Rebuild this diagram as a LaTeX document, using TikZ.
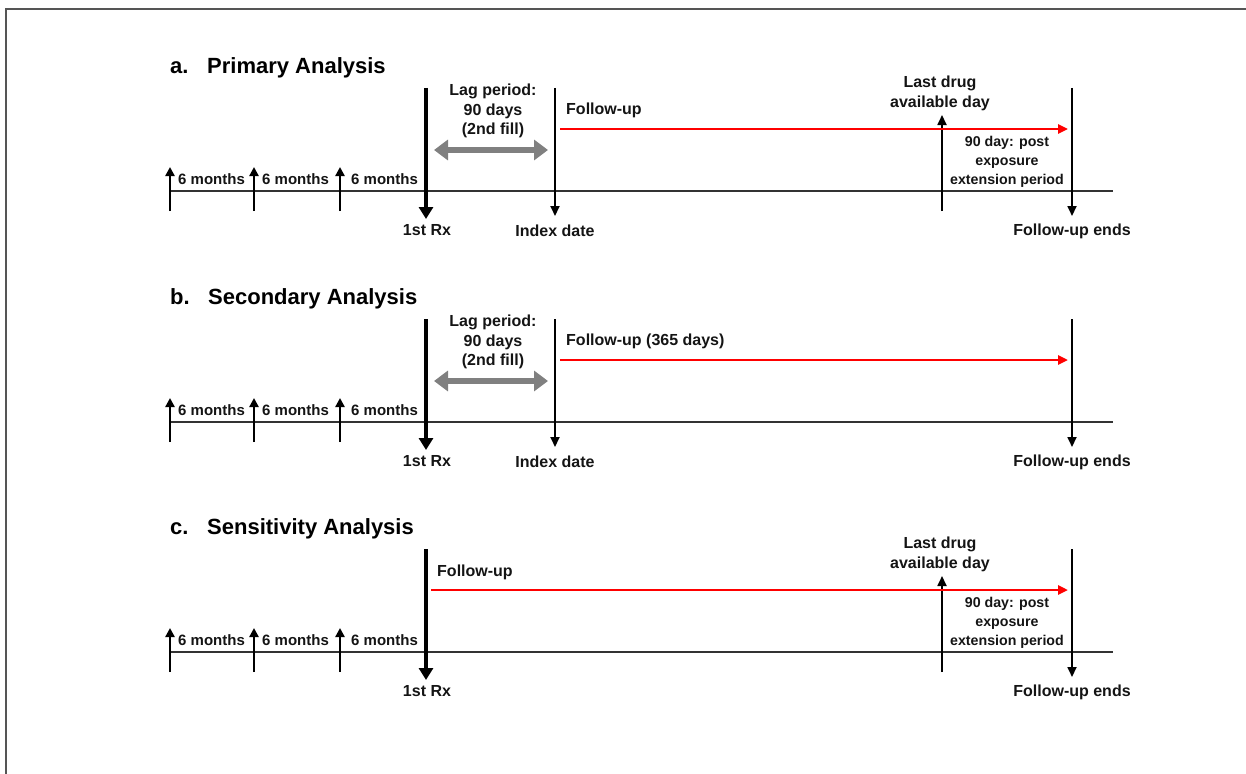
\documentclass[tikz,border=0pt]{standalone}
\usepackage{fontspec}
\setmainfont{Liberation Sans}
\usetikzlibrary{arrows.meta}
\definecolor{framegray}{HTML}{555555}
\definecolor{laggray}{HTML}{808080}
\definecolor{txt}{HTML}{141414}
\tikzset{
  lbl/.style={font=\bfseries\fontsize{16}{19.5}\selectfont, inner sep=0pt, text=txt, align=center},
  mlbl/.style={font=\bfseries\fontsize{15}{18}\selectfont, inner sep=0pt, text=txt, anchor=base west},
  slbl/.style={font=\bfseries\fontsize{14.2}{19}\selectfont, inner sep=0pt, text=txt, align=center},
  ttl/.style={font=\bfseries\fontsize{22}{26}\selectfont, inner sep=0pt, text=black, anchor=base west},
  tline/.style={line width=1.3pt, draw=black!80},
  uparr/.style={line width=2.4pt, -{Triangle[width=9pt,length=9pt]}},
  rxarr/.style={line width=4.5pt, -{Triangle[width=14pt,length=12pt]}},
  thinarr/.style={line width=1.8pt, -{Triangle[width=9pt,length=10pt]}},
  redarr/.style={line width=2.6pt, draw=red, -{Triangle[width=9pt,length=10pt]}},
  lagarr/.style={line width=6.5pt, draw=laggray, {Triangle[width=20pt,length=14pt]}-{Triangle[width=20pt,length=14pt]}},
  framepen/.style={line width=2pt, draw=framegray},
}
\newcommand\mkpanelbase[1]{%
  \coordinate (#1L) at (170,191); \coordinate (#1R) at (1113,191);
  \draw[tline] (#1L) -- (#1R);
  \coordinate (#1s0b) at (170,211); \coordinate (#1s0t) at (170,167);
  \coordinate (#1s1b) at (254,211); \coordinate (#1s1t) at (254,167);
  \coordinate (#1s2b) at (340,211); \coordinate (#1s2t) at (340,167);
  \draw[uparr] (#1s0b) -- (#1s0t);
  \draw[uparr] (#1s1b) -- (#1s1t);
  \draw[uparr] (#1s2b) -- (#1s2t);
  \node[mlbl] (#1m0) at (178,184) {6 months};
  \node[mlbl] (#1m1) at (262,184) {6 months};
  \node[mlbl] (#1m2) at (351,184) {6 months};
  \coordinate (#1rxt) at (426,88); \coordinate (#1rxb) at (426,219);
  \draw[rxarr] (#1rxt) -- (#1rxb);
  \node[lbl] (#1rx) at (427,230) {1st Rx};
  \coordinate (#1fet) at (1072,88); \coordinate (#1feb) at (1072,216);
  \draw[thinarr] (#1fet) -- (#1feb);
  \node[lbl] (#1fe) at (1072,231) {Follow-up ends};
}
\newcommand\mklag[1]{%
  \node[lbl] (#1lag) at (493,111) {Lag period:\\90 days\\(2nd fill)};
  \coordinate (#1lagl) at (434,150); \coordinate (#1lagr) at (548,150);
  \draw[lagarr] (#1lagl) -- (#1lagr);
  \coordinate (#1ixt) at (555,88); \coordinate (#1ixb) at (555,216);
  \draw[thinarr] (#1ixt) -- (#1ixb);
  \node[lbl] (#1ix) at (555,231) {Index date};
}
\newcommand\mklast[1]{%
  \node[lbl] (#1last) at (940,93.5) {Last drug\\available day};
  \coordinate (#1ldb) at (942,211); \coordinate (#1ldt) at (942,115);
  \draw[thinarr] (#1ldb) -- (#1ldt);
  \node[slbl] (#1ext) at (1007,161.5) {90 day: post\\exposure\\extension period};
}
\begin{document}
\begin{tikzpicture}[x=1pt,y=-1pt]
\useasboundingbox (0,0) rectangle (1246,773);
\coordinate (fb) at (6,774); \coordinate (fc) at (6,9); \coordinate (fr) at (1247,9);
\draw[framepen] (fb) -- (fc) -- (fr);
% panel a
\node[ttl] (ta1) at (170,74) {a.};
\node[ttl] (ta2) at (207,74) {Primary Analysis};
\mkpanelbase{a}
\mklag{a}
\mklast{a}
\coordinate (afu0) at (560,129); \coordinate (afu1) at (1068,129);
\draw[redarr] (afu0) -- (afu1);
\node[lbl, anchor=west] (afu) at (566,110) {Follow-up};
% panel b
\begin{scope}[yshift=-231pt]
\node[ttl] (tb1) at (170,73) {b.};
\node[ttl] (tb2) at (208,73) {Secondary Analysis};
\mkpanelbase{b}
\mklag{b}
\coordinate (bfu0) at (560,129); \coordinate (bfu1) at (1068,129);
\draw[redarr] (bfu0) -- (bfu1);
\node[lbl, anchor=west] (bfu) at (566,110) {Follow-up (365 days)};
\end{scope}
% panel c
\begin{scope}[yshift=-461pt]
\node[ttl] (tc1) at (170,73) {c.};
\node[ttl] (tc2) at (207,73) {Sensitivity Analysis};
\mkpanelbase{c}
\mklast{c}
\coordinate (cfu0) at (431,129); \coordinate (cfu1) at (1068,129);
\draw[redarr] (cfu0) -- (cfu1);
\node[lbl, anchor=west] (cfu) at (437,111) {Follow-up};
\end{scope}
\end{tikzpicture}
\end{document}
